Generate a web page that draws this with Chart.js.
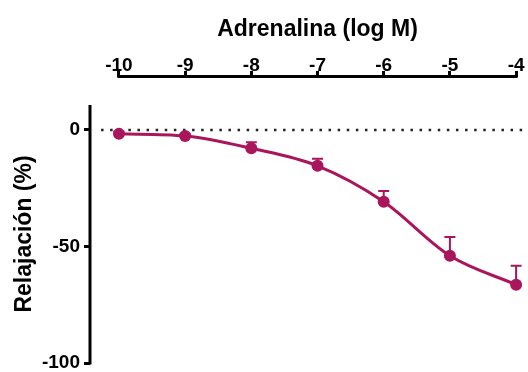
<!DOCTYPE html>
<html><head><meta charset="utf-8">
<script src="https://cdn.jsdelivr.net/npm/chart.js@4/dist/chart.umd.min.js"></script>
<style>html,body{margin:0;padding:0;background:#fff}#wrap{width:528px;height:372px}</style>
</head><body><div id="wrap"><canvas id="c" width="528" height="372"></canvas></div>
<script>
// Data
const logConc = [-10, -9, -8, -7, -6, -5, -4];
const relajacion = [-1.7, -2.6, -7.9, -15.4, -30.8, -54.0, -66.4];
const sem = [1.0, 1.0, 2.6, 3.0, 4.6, 8.1, 8.1];
const xTicks = [-10, -9, -8, -7, -6, -5, -4];
const yTicks = [-100, -50, 0];
const xTitle = 'Adrenalina (log M)';
const yTitle = 'Relajación (%)';
const baselineX = [-10.27, -3.7];
const baselineY = [0, 0];

// Axis extents / style
const X_MIN = -10.437, X_MAX = -3.911;
const Y_MIN = -100, Y_MAX = 22.7, Y_AXIS_TOP = 10.7;
const COLOR = '#A9165B';
const FONT = '"Liberation Sans", Arial, sans-serif';

const customPlugin = {
  id: 'custom',
  beforeDatasetsDraw(chart) {
    const ctx = chart.ctx, xs = chart.scales.x, ys = chart.scales.y;
    ctx.save();
    ctx.strokeStyle = COLOR;
    ctx.lineWidth = 2;
    for (let i = 0; i < logConc.length; i++) {
      const px = xs.getPixelForValue(logConc[i]);
      const y0 = ys.getPixelForValue(relajacion[i]);
      const y1 = ys.getPixelForValue(relajacion[i] + sem[i]);
      ctx.beginPath();
      ctx.moveTo(px, y0); ctx.lineTo(px, y1);
      ctx.moveTo(px - 5.5, y1); ctx.lineTo(px + 5.5, y1);
      ctx.stroke();
    }
    ctx.restore();
  },
  afterDraw(chart) {
    const ctx = chart.ctx, xs = chart.scales.x, ys = chart.scales.y, ca = chart.chartArea;
    ctx.save();
    ctx.strokeStyle = '#000';
    ctx.lineWidth = 3;
    ctx.lineCap = 'butt';
    const xa = xs.getPixelForValue(xTicks[0]), xb = xs.getPixelForValue(xTicks[xTicks.length - 1]);
    ctx.beginPath();
    ctx.moveTo(xa - 1.5, ca.top - 0.5); ctx.lineTo(xb + 1.5, ca.top - 0.5);
    ctx.stroke();
    const ya = ys.getPixelForValue(Y_AXIS_TOP), yb = ys.getPixelForValue(Y_MIN);
    ctx.beginPath();
    ctx.moveTo(ca.left, ya); ctx.lineTo(ca.left, yb + 1.5);
    ctx.stroke();
    ctx.fillStyle = '#000';
    ctx.font = 'bold 23px ' + FONT;
    ctx.textAlign = 'center';
    ctx.textBaseline = 'middle';
    ctx.fillText(xTitle, (xa + xb) / 2, 30);
    ctx.translate(25, (ya + yb) / 2);
    ctx.rotate(-Math.PI / 2);
    ctx.fillText(yTitle, 0, 0);
    ctx.restore();
  }
};

new Chart(document.getElementById('c'), {
  type: 'line',
  data: {
    datasets: [
      {
        data: logConc.map((x, i) => ({ x: x, y: relajacion[i] })),
        borderColor: COLOR,
        backgroundColor: COLOR,
        borderWidth: 3,
        pointRadius: 6,
        pointBorderWidth: 0,
        pointBackgroundColor: COLOR,
        cubicInterpolationMode: 'monotone',
        clip: false
      },
      {
        data: baselineX.map((x, i) => ({ x: x, y: baselineY[i] })),
        borderColor: '#222',
        borderWidth: 2.5,
        borderDash: [2.5, 6.6],
        pointRadius: 0,
        clip: false
      }
    ]
  },
  options: {
    responsive: false,
    animation: false,
    devicePixelRatio: 1,
    layout: { padding: { top: 0, left: 0, right: 0, bottom: 9 } },
    plugins: { legend: { display: false }, tooltip: { enabled: false } },
    scales: {
      x: {
        type: 'linear',
        position: 'top',
        min: X_MIN, max: X_MAX,
        afterBuildTicks: s => { s.ticks = xTicks.map(v => ({ value: v })); },
        afterFit: s => { s.height = 77; s.paddingLeft = 0; s.paddingRight = 0; },
        border: { display: false },
        grid: { drawOnChartArea: false, drawTicks: true, tickLength: 6, tickColor: '#000', lineWidth: 3 },
        ticks: { color: '#000', padding: -4, maxRotation: 0, autoSkip: false,
                 font: { family: FONT, size: 19, weight: 'bold', lineHeight: 1 } }
      },
      y: {
        type: 'linear',
        min: Y_MIN, max: Y_MAX,
        afterBuildTicks: s => { s.ticks = yTicks.map(v => ({ value: v })); },
        afterFit: s => { s.width = 90; s.paddingTop = 0; s.paddingBottom = 0; },
        border: { display: false },
        grid: { drawOnChartArea: false, drawTicks: true, tickLength: 6, tickColor: '#000', lineWidth: 3 },
        ticks: { color: '#000', padding: 4,
                 font: { family: FONT, size: 19, weight: 'bold', lineHeight: 1 } }
      }
    }
  },
  plugins: [customPlugin]
});
</script>
</body></html>
